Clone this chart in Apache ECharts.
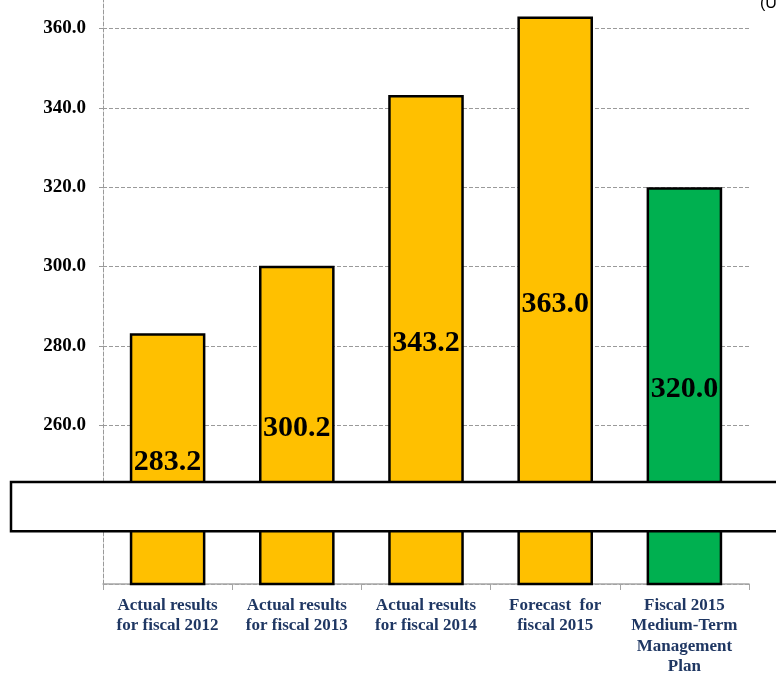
<!DOCTYPE html>
<html>
<head>
<meta charset="utf-8">
<script src="https://cdn.jsdelivr.net/npm/echarts@6/dist/echarts.min.js"></script>
<style>
  html, body { margin: 0; padding: 0; background: #ffffff; }
  #chart { width: 776px; height: 673px; }
</style>
</head>
<body>
<div id="chart"></div>
<script>
// Categories along the x axis
const categories = [
  'Actual results\nfor fiscal 2012',
  'Actual results\nfor fiscal 2013',
  'Actual results\nfor fiscal 2014',
  'Forecast  for\nfiscal 2015',
  'Fiscal 2015\nMedium-Term\nManagement\nPlan'
];
// Values (billion yen)
const values = [283.2, 300.2, 343.2, 363.0, 320.0];
// Which bars are plan targets (drawn green) rather than results/forecast
const isPlan = [false, false, false, false, true];

// Value axis range and the band hidden by the axis-break panel
const axisMin = 220;
const axisMax = 380;
const axisStep = 20;
const breakUpper = 245.7;
const breakLower = 233.3;

const chart = echarts.init(document.getElementById('chart'), null, { renderer: 'canvas' });

const serif = '"Liberation Serif", "Times New Roman", serif';

const option = {
  animation: false,
  backgroundColor: '#ffffff',
  grid: {
    left: 103, right: 27, top: -51, bottom: 89,
    containLabel: false,
    outerBoundsMode: 'none'
  },
  xAxis: {
    type: 'category',
    data: categories,
    axisLine: { show: true, lineStyle: { color: '#a6a6a6', width: 1.5 } },
    axisTick: { show: true, alignWithLabel: false, length: 6, lineStyle: { color: '#a6a6a6' } },
    axisLabel: {
      interval: 0,
      margin: 11,
      color: '#1F3763',
      fontFamily: serif,
      fontWeight: 'bold',
      fontSize: 17,
      lineHeight: 20.5
    },
    splitLine: { show: false }
  },
  yAxis: {
    type: 'value',
    min: axisMin,
    max: axisMax,
    interval: axisStep,
    axisLine: { show: true, lineStyle: { color: '#9a9a9a', type: 'dashed', width: 1 } },
    axisTick: { show: true, length: 6, lineStyle: { color: '#9a9a9a', type: 'dashed' } },
    axisLabel: {
      showMinLabel: false,
      margin: 17,
      color: '#000000',
      fontFamily: serif,
      fontWeight: 'bold',
      fontSize: 19,
      formatter: v => v.toFixed(1)
    },
    splitLine: { show: true, lineStyle: { color: '#9a9a9a', type: 'dashed', width: 1 } }
  },
  series: [{
    type: 'bar',
    barWidth: '58.5%',
    data: values.map((v, i) => ({
      value: v,
      itemStyle: { color: isPlan[i] ? '#00B050' : '#FFC000' }
    })),
    itemStyle: { borderColor: '#000000', borderWidth: 2.5 },
    label: {
      show: true,
      position: 'inside',
      offset: [0, 3],
      color: '#000000',
      fontFamily: serif,
      fontWeight: 'bold',
      fontSize: 30,
      formatter: p => p.value.toFixed(1)
    }
  }]
};

chart.setOption(option);

// Axis-break panel drawn across the value axis, plus the unit note at top right
const yTop = chart.convertToPixel({ yAxisIndex: 0 }, breakUpper);
const yBottom = chart.convertToPixel({ yAxisIndex: 0 }, breakLower);

chart.setOption({
  graphic: [
    {
      type: 'rect',
      z: 100,
      shape: { x: 11, y: yTop, width: 800, height: yBottom - yTop },
      style: { fill: '#ffffff', stroke: '#000000', lineWidth: 2.5 }
    },
    {
      type: 'text',
      z: 100,
      x: 760,
      y: -4,
      style: {
        text: '(Unit: billion yen)',
        fill: '#000000',
        fontFamily: '"Liberation Sans", Arial, sans-serif',
        fontSize: 16
      }
    }
  ]
});
</script>
</body>
</html>
